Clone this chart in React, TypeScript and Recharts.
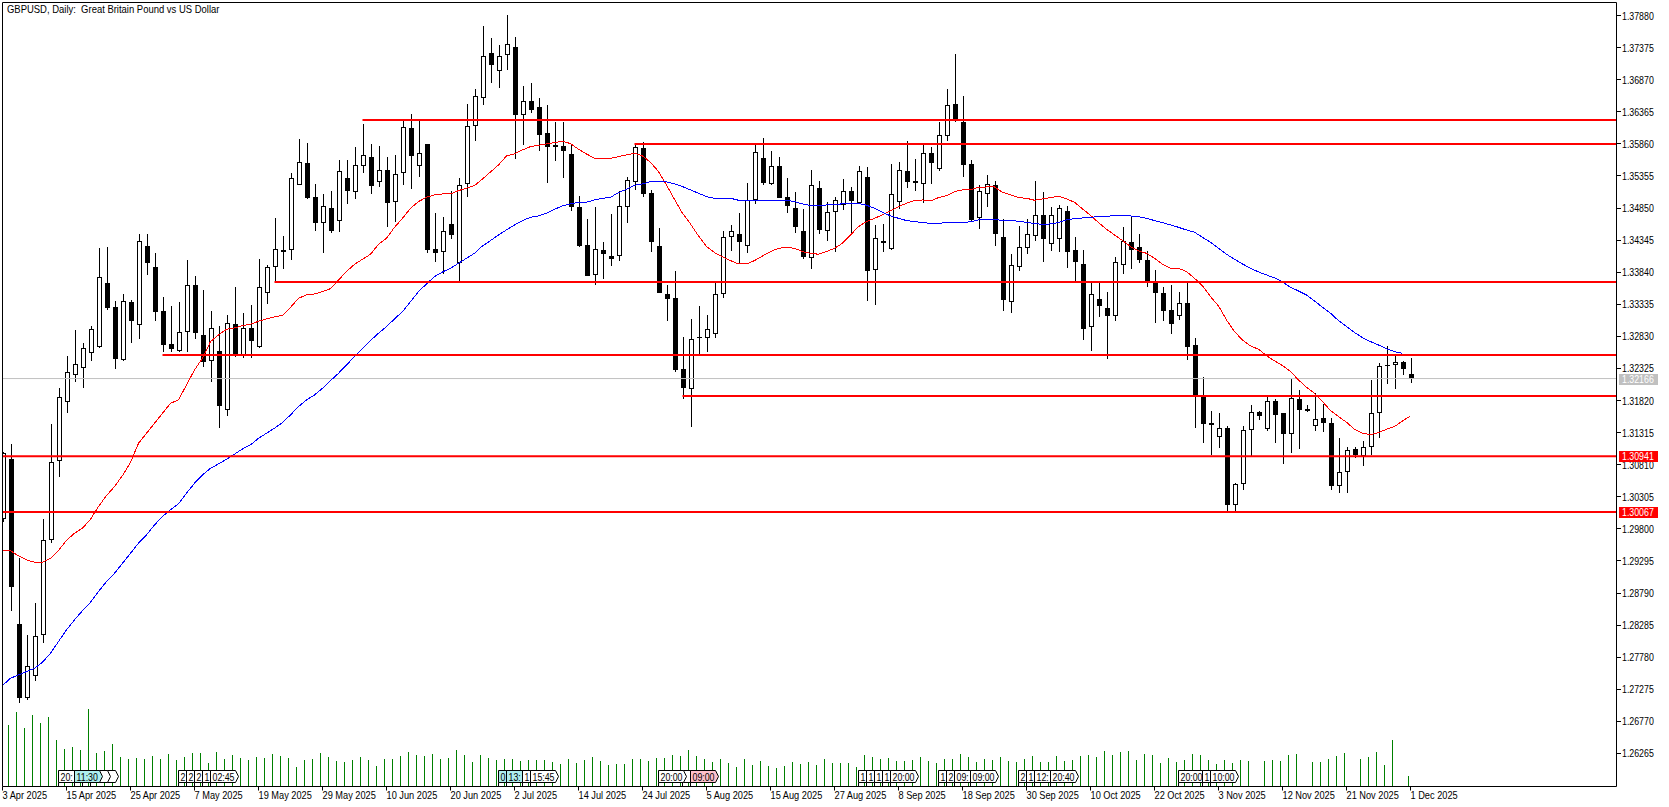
import React from "react";
import { Bar, ComposedChart, Line, ReferenceLine, Scatter, XAxis, YAxis } from "recharts";

const opens = [
  1.29952,1.30901,1.28303,1.27144,1.27480,1.28126,1.29621,1.30864,1.31804,1.32218,
  1.32338,1.32564,1.32669,1.33666,1.33288,1.32464,1.33367,1.33005,1.34248,1.33918,
  1.33225,1.32706,1.32596,1.32895,1.33635,1.32848,1.32438,1.32596,1.31667,1.33021,
  1.32533,1.32958,1.32659,1.33509,1.33918,1.34185,1.34185,1.35209,1.35555,1.35020,
  1.34610,1.34847,1.34642,1.35319,1.35098,1.35508,1.35649,1.35256,1.35445,1.34941,
  1.35398,1.36111,1.35508,1.35854,1.34201,1.34154,1.34595,1.33981,1.35224,1.36137,
  1.36578,1.37286,1.37003,1.37255,1.37381,1.36311,1.36531,1.36436,1.36027,1.35838,
  1.35823,1.35697,1.34862,1.34264,1.33792,1.34185,1.34091,1.34091,1.34862,1.35256,
  1.35791,1.35083,1.34248,1.33493,1.33430,1.32312,1.31997,1.32821,1.32800,1.32863,
  1.33493,1.34390,1.34437,1.34248,1.34973,1.35634,1.35235,1.35508,1.35020,1.34847,
  1.34485,1.34060,1.35161,1.34485,1.34784,1.34894,1.35114,1.34925,1.35335,1.33871,
  1.34296,1.34212,1.34952,1.35429,1.35272,1.35224,1.35712,1.35461,1.35980,1.36484,
  1.36200,1.35539,1.34689,1.35067,1.35209,1.34390,1.33377,1.33918,1.34217,1.34406,
  1.34736,1.34280,1.34359,1.34799,1.34185,1.33965,1.32973,1.33414,1.33272,1.33157,
  1.33949,1.34311,1.34233,1.34028,1.33682,1.33509,1.33241,1.33157,1.33351,1.32690,
  1.31882,1.31462,1.31253,1.31384,1.30172,1.30502,1.31352,1.31636,1.31378,1.31809,
  1.31620,1.31300,1.31840,1.31683,1.31415,1.31541,1.31462,1.30481,1.30691,1.31053,
  1.30953,1.31085,1.31620,1.32375,1.32375,1.32423,1.32233,
];
const highs = [
  1.31016,1.31137,1.29337,1.28131,1.28629,1.29952,1.31452,1.32013,1.32522,1.32931,
  1.32722,1.32995,1.34222,1.34233,1.33388,1.33498,1.33404,1.34443,1.34443,1.34138,
  1.33446,1.33309,1.33367,1.34028,1.33776,1.33556,1.33225,1.32995,1.33162,1.33603,
  1.33194,1.33320,1.34044,1.33949,1.34689,1.34406,1.35398,1.35933,1.35870,1.35224,
  1.35067,1.35114,1.35602,1.35602,1.35807,1.36174,1.35854,1.35823,1.35649,1.35681,
  1.36237,1.36332,1.36226,1.35859,1.34768,1.34705,1.35114,1.35319,1.36484,1.36720,
  1.37711,1.37523,1.37412,1.37890,1.37538,1.36767,1.36814,1.36578,1.36468,1.36200,
  1.36200,1.35854,1.35036,1.34673,1.34862,1.34311,1.34752,1.35114,1.35335,1.35859,
  1.35885,1.35135,1.34532,1.33635,1.33855,1.32816,1.33099,1.33304,1.33162,1.33687,
  1.34485,1.34579,1.34768,1.35240,1.35849,1.35948,1.35744,1.35649,1.35319,1.35098,
  1.34831,1.35445,1.35272,1.34941,1.35020,1.35303,1.35177,1.35513,1.35492,1.34579,
  1.34595,1.35539,1.35571,1.35901,1.35618,1.35838,1.35807,1.36206,1.36720,1.37276,
  1.36615,1.35602,1.35209,1.35366,1.35272,1.34673,1.34123,1.34563,1.34673,1.35272,
  1.35098,1.34862,1.34894,1.34878,1.34390,1.34185,1.33666,1.33666,1.33524,1.34075,
  1.34547,1.34715,1.34437,1.34170,1.33871,1.33603,1.33635,1.33524,1.33682,1.32800,
  1.32186,1.31651,1.31620,1.31415,1.30518,1.31415,1.31746,1.31662,1.31882,1.31840,
  1.31625,1.32155,1.31982,1.31746,1.31935,1.31761,1.31541,1.31226,1.31085,1.31085,
  1.31179,1.32139,1.32407,1.32674,1.32533,1.32438,1.32485,
];
const lows = [
  1.29915,1.28513,1.27065,1.27107,1.27412,1.28010,1.29584,1.30623,1.31631,1.32118,
  1.32024,1.32449,1.32653,1.33252,1.32323,1.32449,1.32732,1.32795,1.33802,1.33078,
  1.32590,1.32590,1.32590,1.32590,1.32795,1.32354,1.32118,1.31394,1.31583,1.32501,
  1.32496,1.32496,1.32648,1.33346,1.33687,1.33897,1.34033,1.35209,1.34999,1.34495,
  1.34149,1.34463,1.34479,1.34920,1.34999,1.35403,1.35077,1.35188,1.34558,1.34637,
  1.35219,1.35156,1.35345,1.34149,1.34002,1.33813,1.34369,1.33687,1.35030,1.35912,
  1.36473,1.36825,1.36746,1.37029,1.35628,1.35849,1.36353,1.35749,1.35251,1.35597,
  1.35329,1.34810,1.34243,1.33787,1.33645,1.33739,1.33944,1.34023,1.34621,1.35135,
  1.35030,1.34164,1.33509,1.33078,1.32276,1.31851,1.31410,1.32554,1.32590,1.32805,
  1.33430,1.34180,1.33981,1.34149,1.34920,1.35209,1.35219,1.35015,1.34768,1.34463,
  1.34054,1.33897,1.34448,1.34338,1.34154,1.34826,1.34463,1.34925,1.33393,1.33325,
  1.34159,1.34191,1.34831,1.35172,1.35125,1.34936,1.35230,1.35429,1.35912,1.36200,
  1.35345,1.34626,1.34526,1.34873,1.34259,1.33236,1.33204,1.33865,1.34133,1.34338,
  1.34007,1.34175,1.34164,1.33913,1.33692,1.32779,1.32606,1.33141,1.32480,1.33078,
  1.33818,1.33897,1.33991,1.33613,1.33047,1.33078,1.32874,1.33094,1.32464,1.31394,
  1.31158,1.30959,1.31080,1.30077,1.30077,1.30418,1.30953,1.31520,1.31347,1.31158,
  1.30827,1.31001,1.31064,1.31636,1.31347,1.31331,1.30418,1.30371,1.30371,1.30922,
  1.30796,1.30959,1.31237,1.32087,1.32008,1.32228,1.32102,
];
const closes = [
  1.30990,1.28891,1.27144,1.27637,1.28110,1.29621,1.30848,1.31882,1.32265,1.32391,
  1.32643,1.32942,1.33760,1.33283,1.32480,1.33383,1.33078,1.34327,1.33991,1.33220,
  1.32701,1.32638,1.32895,1.33635,1.32890,1.32433,1.32958,1.31741,1.33036,1.32538,
  1.32958,1.32764,1.33603,1.33918,1.34201,1.34164,1.35319,1.35571,1.35004,1.34621,
  1.34878,1.34495,1.35429,1.35125,1.35524,1.35681,1.35193,1.35445,1.34936,1.35382,
  1.36122,1.35676,1.35712,1.34196,1.34149,1.34485,1.34432,1.35209,1.36137,1.36610,
  1.37239,1.37098,1.37239,1.37428,1.36321,1.36531,1.36400,1.35996,1.35817,1.35817,
  1.35754,1.34862,1.34254,1.33787,1.34201,1.34133,1.34054,1.34878,1.35287,1.35807,
  1.35077,1.34322,1.33509,1.33425,1.32307,1.32024,1.32785,1.32805,1.32942,1.33493,
  1.34390,1.34485,1.34311,1.34973,1.35728,1.35251,1.35508,1.35015,1.34889,1.34558,
  1.34086,1.35209,1.34511,1.34784,1.34973,1.35114,1.34968,1.35429,1.33865,1.34374,
  1.34327,1.35067,1.35445,1.35266,1.35251,1.35712,1.35565,1.35996,1.36468,1.36216,
  1.35534,1.34668,1.35114,1.35224,1.34448,1.33409,1.33949,1.34233,1.34437,1.34736,
  1.34369,1.34736,1.34847,1.34164,1.34007,1.32953,1.33493,1.33314,1.33157,1.33997,
  1.34327,1.34196,1.34038,1.33692,1.33519,1.33236,1.33031,1.33351,1.32669,1.31898,
  1.31446,1.31441,1.31384,1.30182,1.30502,1.31352,1.31636,1.31573,1.31809,1.31599,
  1.31300,1.31856,1.31678,1.31662,1.31536,1.31462,1.30481,1.30691,1.31037,1.30959,
  1.31085,1.31620,1.32359,1.32359,1.32423,1.32312,1.32166,
];
// red moving average
const fastMa = [
  1.29463,1.29458,1.29374,1.29311,1.29274,1.29274,1.29337,1.29458,1.29621,1.29731,
  1.29810,1.29952,1.30151,1.30324,1.30466,1.30639,1.30848,1.31147,1.31305,1.31462,
  1.31620,1.31777,1.31830,1.32066,1.32302,1.32485,1.32748,1.32853,1.32942,1.32963,
  1.32999,1.33021,1.33068,1.33105,1.33136,1.33162,1.33288,1.33430,1.33482,1.33498,
  1.33535,1.33582,1.33718,1.33850,1.33965,1.34044,1.34123,1.34280,1.34374,1.34547,
  1.34689,1.34847,1.34952,1.35020,1.35057,1.35072,1.35072,1.35125,1.35161,1.35203,
  1.35308,1.35418,1.35529,1.35670,1.35702,1.35765,1.35817,1.35838,1.35859,1.35880,
  1.35901,1.35865,1.35775,1.35702,1.35634,1.35634,1.35634,1.35660,1.35686,1.35712,
  1.35670,1.35571,1.35424,1.35214,1.34988,1.34768,1.34600,1.34411,1.34243,1.34149,
  1.34086,1.34023,1.33970,1.33970,1.34023,1.34096,1.34164,1.34217,1.34233,1.34217,
  1.34164,1.34138,1.34123,1.34164,1.34217,1.34296,1.34427,1.34558,1.34637,1.34689,
  1.34742,1.34805,1.34873,1.34925,1.34968,1.34978,1.34962,1.35015,1.35046,1.35109,
  1.35135,1.35135,1.35177,1.35182,1.35182,1.35098,1.35057,1.35015,1.35004,1.34973,
  1.34994,1.35015,1.35036,1.34994,1.34941,1.34836,1.34736,1.34621,1.34516,1.34427,
  1.34338,1.34243,1.34175,1.34138,1.34060,1.33965,1.33902,1.33902,1.33850,1.33745,
  1.33624,1.33456,1.33309,1.33089,1.32905,1.32774,1.32679,1.32627,1.32527,1.32444,
  1.32370,1.32276,1.32144,1.32029,1.31935,1.31804,1.31662,1.31567,1.31478,1.31368,
  1.31305,1.31284,1.31315,1.31368,1.31410,1.31499,1.31578,
];
// blue moving average
const slowMa = [
  1.27333,1.27448,1.27501,1.27553,1.27606,1.27700,1.27842,1.28026,1.28209,1.28367,
  1.28513,1.28645,1.28813,1.28970,1.29101,1.29259,1.29416,1.29574,1.29705,1.29862,
  1.29994,1.30099,1.30193,1.30361,1.30518,1.30649,1.30754,1.30822,1.30896,1.30975,
  1.31058,1.31121,1.31226,1.31305,1.31384,1.31473,1.31594,1.31725,1.31830,1.31908,
  1.32013,1.32134,1.32249,1.32380,1.32512,1.32643,1.32764,1.32879,1.32984,1.33105,
  1.33220,1.33377,1.33535,1.33656,1.33771,1.33844,1.33902,1.33981,1.34060,1.34138,
  1.34254,1.34338,1.34427,1.34506,1.34584,1.34653,1.34705,1.34726,1.34768,1.34831,
  1.34883,1.34915,1.34941,1.34941,1.34978,1.35004,1.35020,1.35093,1.35146,1.35209,
  1.35230,1.35266,1.35272,1.35261,1.35230,1.35188,1.35135,1.35083,1.35030,1.35004,
  1.35004,1.35004,1.34973,1.34973,1.34973,1.34973,1.34973,1.34973,1.34973,1.34952,
  1.34915,1.34889,1.34884,1.34899,1.34910,1.34915,1.34925,1.34925,1.34894,1.34847,
  1.34784,1.34726,1.34689,1.34653,1.34637,1.34621,1.34610,1.34610,1.34621,1.34626,
  1.34626,1.34632,1.34663,1.34673,1.34668,1.34658,1.34658,1.34642,1.34626,1.34605,
  1.34595,1.34600,1.34621,1.34663,1.34684,1.34694,1.34705,1.34715,1.34715,1.34736,
  1.34736,1.34726,1.34715,1.34689,1.34653,1.34621,1.34584,1.34547,1.34505,1.34469,
  1.34390,1.34311,1.34217,1.34123,1.34044,1.33970,1.33902,1.33844,1.33797,1.33750,
  1.33687,1.33603,1.33545,1.33482,1.33388,1.33288,1.33194,1.33078,1.32984,1.32890,
  1.32811,1.32748,1.32695,1.32633,1.32590,1.32564,null,
];
// lower pane, no scale is printed so the unit is arbitrary
const volumes = [
  60,62,75,59,72,64,70,47,38,40,37,78,34,36,43,30,28,29,28,31,
  28,33,27,30,34,34,24,35,28,32,29,27,30,29,33,31,29,20,27,28,
  34,30,26,25,27,30,27,21,28,28,31,35,32,31,33,28,29,37,32,25,
  32,29,27,28,28,26,27,27,27,25,23,28,24,27,30,26,22,23,23,28,
  28,26,29,29,32,31,37,31,28,25,28,24,20,28,22,26,21,19,21,25,
  23,25,22,28,24,24,24,20,32,30,28,29,26,26,27,30,26,24,28,28,
  33,30,25,28,27,30,26,25,28,31,25,25,31,26,27,31,32,30,36,32,
  35,36,27,33,32,24,29,25,27,33,32,27,23,27,24,27,26,0,26,27,
  26,32,33,0,25,25,28,31,34,1,28,30,35,22,47,1,11,
];

const tickIndexes = [0,8,16,24,32,40,48,56,64,72,80,88,96,104,112,120,128,136,144,152,160,168,176];
const dateLabels = [
  "3 Apr 2025","15 Apr 2025","25 Apr 2025","7 May 2025","19 May 2025","29 May 2025","10 Jun 2025","20 Jun 2025",
  "2 Jul 2025","14 Jul 2025","24 Jul 2025","5 Aug 2025","15 Aug 2025","27 Aug 2025","8 Sep 2025","18 Sep 2025",
  "30 Sep 2025","10 Oct 2025","22 Oct 2025","3 Nov 2025","12 Nov 2025","21 Nov 2025","1 Dec 2025",
];
const priceTicks = [
  1.3788,1.37375,1.3687,1.36365,1.3586,1.35355,1.3485,1.34345,1.3384,1.33335,1.3283,1.32325,
  1.3182,1.31315,1.3081,1.30305,1.298,1.29295,1.2879,1.28285,1.2778,1.27275,1.2677,1.26265,
];
const currentPrice = 1.32166;
const tagPrices = [1.32166, 1.30941, 1.30067];
const tagColors = ["#c0c0c0", "#ff0000", "#ff0000"];

const levelPrices = [1.36237, 1.35859, 1.33686, 1.32537, 1.31892, 1.30941, 1.30067];
const levelStarts = [45, 79, 34, 20, 85, 0, 0];

// event flags on the time axis, in the order they overlap
const flagIndexes = [11,10,7,9, 22,23,24,25,26, 62,63,65,66, 85,82,86, 107,108,109,110,111, 117,118,119,121, 127,128,129,131, 147,150,151];
const flagTexts = ["","","20:","11:30", "2","2","2","1","02:45", "0","13:","1","15:45", "","20:00","09:00", "1","1","1","1","20:00", "1","2","09:","09:00", "2","1","12:","20:40", "20:00","1","10:00"];
const flagColors: Record<number, string> = { 9: "#aeeeee", 62: "#aeeeee", 63: "#aeeeee", 86: "#ffc0cb" };
const flagPrice = 1.2591;

const priceDomain = [1.25744, 1.38086];
const indexDomain = [0, 201.75];
const FONT = '"Liberation Sans", Arial, sans-serif';

const candles = opens.map((open, i) => ({
  index: i,
  open,
  high: highs[i],
  low: lows[i],
  close: closes[i],
  fast: fastMa[i],
  slow: slowMa[i],
  volume: volumes[i],
}));
const flags = flagIndexes.map((index, i) => ({ index, price: flagPrice, text: flagTexts[i], fill: flagColors[index] || "#ffffff" }));

// all labels are squeezed sideways, the terminal font is narrower than Liberation
const SqueezedText = ({ x, y, scale, fill, children }: any) => (
  <text transform={`translate(${x},${y}) scale(${scale},1)`} fontFamily={FONT} fontSize={11} fill={fill}>
    {children}
  </text>
);

const CandleShape = (props: any) => {
  const { x, y, width, height, payload } = props;
  const cx = x + width / 2;
  const perPrice = height / (payload.high - payload.low);
  const toY = (p: number) => y + (payload.high - p) * perPrice;
  const black = payload.close < payload.open;
  const top = Math.round(toY(Math.max(payload.open, payload.close)));
  const bottom = Math.round(toY(Math.min(payload.open, payload.close)));
  return (
    <g shapeRendering="crispEdges">
      <rect x={cx - 0.5} y={y} width={1} height={height} fill="#000" />
      {black ? (
        <rect x={cx - 2.5} y={top} width={5} height={Math.max(bottom - top, 1)} fill="#000" />
      ) : (
        <rect x={cx - 2} y={top + 0.5} width={4} height={Math.max(bottom - top - 1, 1)} fill="#fff" stroke="#000" />
      )}
    </g>
  );
};

const FlagShape = (props: any) => {
  const { cx, cy, payload } = props;
  const x = cx;
  const y = Math.round(cy) + 0.5;
  const points = `${x},${y - 6} ${x + 25},${y - 6} ${x + 28},${y} ${x + 25},${y + 6} ${x},${y + 6}`;
  return (
    <g>
      <line x1={x} y1={y + 6} x2={x} y2={y + 10} stroke="#000" />
      <polygon points={points} fill={payload.fill} stroke="#000" />
      <SqueezedText x={x + 2} y={y + 4} scale={0.8} fill="#000">
        {payload.text}
      </SqueezedText>
    </g>
  );
};

const DateTick = (props: any) => {
  const { x, y, payload } = props;
  const label = dateLabels[tickIndexes.indexOf(payload.value)];
  return (
    <SqueezedText x={x} y={y + 6} scale={0.84} fill="#000">
      {label}
    </SqueezedText>
  );
};

const PriceTick = (props: any) => {
  const { x, y, payload } = props;
  const tag = tagPrices.indexOf(payload.value);
  const label = payload.value.toFixed(5);
  if (tag >= 0) {
    return (
      <g>
        <rect x={x + 2.5} y={Math.round(y) - 5} width={39} height={11} fill={tagColors[tag]} />
        <SqueezedText x={x + 5.5} y={y + 4} scale={0.8} fill="#fff">
          {label}
        </SqueezedText>
      </g>
    );
  }
  return (
    <g>
      <line x1={x} y1={y} x2={x + 4} y2={y} stroke="#000" shapeRendering="crispEdges" />
      <SqueezedText x={x + 5.5} y={y + 4} scale={0.8} fill="#000">
        {label}
      </SqueezedText>
    </g>
  );
};

const App: React.FC = () => {
  return (
    <div style={{ position: "absolute", left: 0, top: 0, width: 1669, height: 807, background: "#fff" }}>
      <div
        style={{
          position: "absolute",
          left: 7,
          top: 3,
          fontFamily: FONT,
          fontSize: 11,
          whiteSpace: "pre",
          zIndex: 5,
          color: "#000",
          lineHeight: "13px",
          transform: "scaleX(0.86)",
          transformOrigin: "left top",
        }}
      >
        {"GBPUSD, Daily:  Great Britain Pound vs US Dollar"}
      </div>
      <ComposedChart width={1669} height={807} data={candles} margin={{ top: 2.5, right: 0, left: 2.5, bottom: 0 }}>
        <XAxis
          dataKey="index"
          type="number"
          domain={indexDomain}
          allowDataOverflow
          ticks={tickIndexes}
          interval={0}
          height={20.5}
          tickSize={4}
          tick={<DateTick />}
          axisLine={{ stroke: "#000" }}
          tickLine={{ stroke: "#000" }}
        />
        <YAxis
          orientation="right"
          type="number"
          domain={priceDomain}
          allowDataOverflow
          ticks={[...priceTicks, ...tagPrices]}
          interval={0}
          width={52.5}
          tickSize={0}
          tickMargin={0}
          tick={<PriceTick />}
          tickLine={false}
          axisLine={{ stroke: "#000" }}
        />
        <YAxis yAxisId="volume" hide type="number" domain={[0, 784]} />
        <ReferenceLine y={currentPrice} stroke="#c0c0c0" strokeWidth={1} />
        <Bar yAxisId="volume" dataKey="volume" barSize={1} fill="#008000" shapeRendering="crispEdges" isAnimationActive={false} />
        <Bar dataKey={(d: any) => [d.low, d.high]} barSize={5} shape={<CandleShape />} isAnimationActive={false} />
        <Line dataKey="fast" type="linear" stroke="#ff0000" strokeWidth={1} dot={false} shapeRendering="crispEdges" isAnimationActive={false} />
        <Line dataKey="slow" type="linear" stroke="#0000ff" strokeWidth={1} dot={false} shapeRendering="crispEdges" isAnimationActive={false} />
        {levelPrices.map((price, i) => (
          <ReferenceLine
            key={price}
            segment={[{ x: levelStarts[i], y: price }, { x: indexDomain[1], y: price }]}
            stroke="#ff0000"
            strokeWidth={2}
          />
        ))}
        <ReferenceLine x={0} stroke="#000" strokeWidth={1} />
        <ReferenceLine y={priceDomain[1]} stroke="#000" strokeWidth={1} />
        <Scatter data={flags} dataKey="price" shape={<FlagShape />} isAnimationActive={false} />
      </ComposedChart>
    </div>
  );
};

export default App;
